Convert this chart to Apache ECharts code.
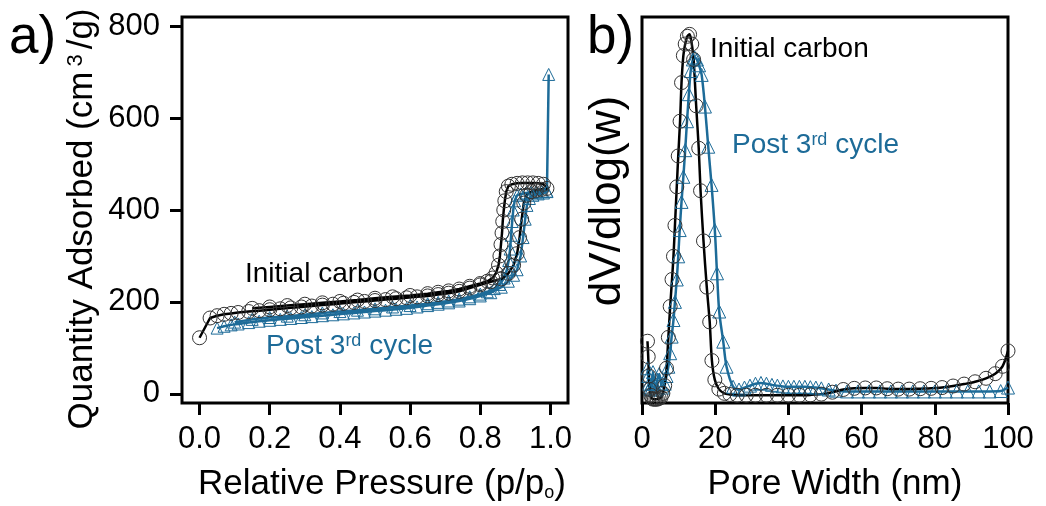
<!DOCTYPE html>
<html><head><meta charset="utf-8">
<script src="https://cdn.jsdelivr.net/npm/echarts@6/dist/echarts.min.js"></script>
<style>html,body{margin:0;padding:0;background:#fff}#c{width:1046px;height:506px}</style>
</head><body><div id="c"></div>
<script>
// ---- tick labels ----
const isoXTicks = [0, 0.2, 0.4, 0.6, 0.8, 1.0];
const isoYTicks = [0, 200, 400, 600, 800];
const psdXTicks = [0, 20, 40, 60, 80, 100];

// ---- (a) isotherms: Initial carbon ----
const icAdsP = [0.0, 0.03, 0.05, 0.07, 0.09, 0.11, 0.14, 0.17, 0.20, 0.23, 0.26, 0.29, 0.32, 0.35, 0.38, 0.41, 0.44, 0.47, 0.50, 0.53, 0.56, 0.59, 0.62, 0.65, 0.68, 0.71, 0.74, 0.77, 0.80, 0.83, 0.86, 0.88, 0.895, 0.905, 0.912, 0.918, 0.924, 0.932, 0.945, 0.96, 0.975, 0.99];
const icAdsV = [122, 165, 170, 173, 175, 177, 179, 181, 183, 185, 187, 189, 191, 193, 195, 197, 199, 201, 203, 205, 207, 209, 211, 213, 216, 219, 223, 230, 237, 244, 250, 262, 280, 305, 340, 380, 415, 432, 440, 443, 445, 447];
const icDesP = [0.98, 0.965, 0.95, 0.935, 0.92, 0.905, 0.89, 0.88, 0.874, 0.87, 0.867, 0.864, 0.862, 0.859, 0.856, 0.852, 0.845, 0.835, 0.82, 0.80, 0.77, 0.74, 0.71, 0.68, 0.65, 0.60, 0.55, 0.50, 0.45, 0.40, 0.35, 0.30, 0.25, 0.20, 0.15];
const icDesV = [456, 458, 459, 459, 459, 458, 456, 452, 440, 420, 400, 375, 350, 325, 300, 280, 263, 252, 245, 240, 234, 228, 224, 221, 218, 214, 211, 208, 204, 201, 198, 195, 192, 189, 186];

// ---- (a) isotherms: Post 3rd cycle ----
const pcAdsP = [0.05, 0.07, 0.09, 0.11, 0.14, 0.17, 0.20, 0.23, 0.26, 0.29, 0.32, 0.35, 0.38, 0.41, 0.44, 0.47, 0.50, 0.53, 0.56, 0.59, 0.62, 0.65, 0.68, 0.71, 0.74, 0.77, 0.80, 0.83, 0.86, 0.88, 0.895, 0.905, 0.915, 0.922, 0.928, 0.933, 0.94, 0.95, 0.965, 0.98, 0.99, 0.995];
const pcAdsV = [143, 147, 150, 152, 155, 158, 160, 162, 164, 166, 168, 170, 172, 174, 176, 178, 180, 182, 184, 186, 189, 192, 195, 198, 202, 207, 213, 220, 232, 245, 258, 270, 300, 340, 380, 410, 425, 432, 435, 437, 440, 695];
const pcDesP = [0.99, 0.975, 0.96, 0.945, 0.93, 0.915, 0.905, 0.898, 0.894, 0.891, 0.888, 0.885, 0.881, 0.876, 0.868, 0.855, 0.84, 0.82, 0.80, 0.77, 0.74, 0.71, 0.68, 0.65, 0.60, 0.55, 0.50, 0.45, 0.40, 0.35, 0.30, 0.25, 0.20, 0.15, 0.10];
const pcDesV = [441, 440, 439, 438, 437, 435, 432, 420, 400, 375, 345, 315, 290, 270, 252, 238, 229, 222, 217, 211, 206, 202, 199, 196, 192, 189, 185, 182, 179, 176, 172, 169, 166, 162, 156];

// ---- (b) pore size distribution ----
const icPsdW = [1.5, 1.7, 1.9, 2.1, 2.4, 2.7, 3.0, 3.4, 3.8, 4.2, 4.7, 5.2, 5.7, 6.2, 6.7, 7.2, 7.7, 8.2, 8.6, 9.0, 9.5, 9.9, 10.4, 10.8, 11.3, 11.8, 12.4, 13.0, 13.6, 14.1, 14.8, 15.5, 16.0, 16.8, 17.7, 18.5, 19.1, 19.9, 21.0, 22.5, 24, 26, 28.5, 31, 34, 37, 40, 43, 46, 49, 52, 55, 58, 61, 64, 67, 70, 73, 76, 79, 82, 85, 88, 91, 94, 96.5, 98.5, 100];
const icPsdV = [0.16, 0.12, 0.07, 0.035, 0.02, 0.012, 0.01, 0.01, 0.01, 0.01, 0.012, 0.015, 0.025, 0.045, 0.09, 0.17, 0.25, 0.32, 0.38, 0.46, 0.56, 0.64, 0.73, 0.83, 0.90, 0.93, 0.95, 0.955, 0.93, 0.89, 0.77, 0.66, 0.55, 0.42, 0.30, 0.21, 0.11, 0.06, 0.036, 0.025, 0.022, 0.02, 0.02, 0.02, 0.02, 0.02, 0.02, 0.02, 0.021, 0.023, 0.028, 0.035, 0.038, 0.039, 0.039, 0.037, 0.036, 0.036, 0.037, 0.038, 0.04, 0.044, 0.049, 0.055, 0.064, 0.076, 0.095, 0.135];
const pcPsdW = [1.5, 1.7, 1.9, 2.1, 2.4, 2.7, 3.0, 3.4, 3.8, 4.2, 4.7, 5.2, 5.7, 6.2, 6.7, 7.2, 7.7, 8.1, 8.6, 9.0, 9.5, 9.9, 10.3, 10.8, 11.3, 11.8, 12.3, 12.8, 13.3, 13.9, 14.4, 15.0, 15.6, 16.3, 17.2, 18.1, 19.0, 19.9, 20.5, 21.1, 22.2, 23.1, 24.9, 26.5, 28, 29.5, 31, 32.5, 34, 35.5, 37, 38.5, 40, 41.5, 43, 44.5, 46, 47.5, 49, 51, 53, 56, 59, 62, 65, 68, 71, 74, 77, 80, 83, 86, 89, 92, 95, 98, 100];
const pcPsdV = [0.09, 0.07, 0.05, 0.04, 0.035, 0.05, 0.08, 0.05, 0.035, 0.06, 0.075, 0.05, 0.04, 0.05, 0.07, 0.094, 0.129, 0.172, 0.215, 0.262, 0.32, 0.38, 0.448, 0.521, 0.586, 0.655, 0.73, 0.80, 0.86, 0.89, 0.895, 0.89, 0.875, 0.85, 0.768, 0.664, 0.565, 0.448, 0.336, 0.237, 0.159, 0.094, 0.042, 0.035, 0.04, 0.045, 0.05, 0.052, 0.05, 0.047, 0.045, 0.043, 0.042, 0.042, 0.042, 0.042, 0.041, 0.04, 0.038, 0.035, 0.032, 0.03, 0.03, 0.03, 0.03, 0.03, 0.03, 0.03, 0.03, 0.03, 0.03, 0.03, 0.03, 0.03, 0.03, 0.031, 0.04];

const zip = (a, b) => a.map((v, i) => [v, b[i]]);
const BLUE = '#1d6b98';
const FF = 'Liberation Sans, Arial, sans-serif';

const icIso = zip(icAdsP, icAdsV).concat(zip(icDesP, icDesV));
const pcIso = zip(pcAdsP, pcAdsV).concat(zip(pcDesP, pcDesV));

const circleStyle = {color: 'rgba(0,0,0,0)', borderColor: '#333', borderWidth: 1};
const triStyle = {color: 'rgba(0,0,0,0)', borderColor: BLUE, borderWidth: 1};

const chart = echarts.init(document.getElementById('c'), null, {renderer: 'canvas'});
const tickStyle = {show: true, length: 12, lineStyle: {width: 3, color: '#000'}};
const lbl = {fontSize: 31, color: '#000', fontFamily: FF};
const nameRich = {
  n: {fontSize: 35, fontFamily: FF, color: '#000'},
  o: {fontSize: 18, fontFamily: FF, color: '#000', verticalAlign: 'bottom'}
};
const annRich = {
  m: {fontSize: 28, fontFamily: FF, fill: BLUE},
  s: {fontSize: 18, fontFamily: FF, fill: BLUE, verticalAlign: 'top'}
};

chart.setOption({
  animation: false,
  backgroundColor: '#fff',
  grid: [
    {left: 182, top: 17, width: 386, height: 386, show: true, borderColor: '#000', borderWidth: 3,
     backgroundColor: 'transparent', outerBoundsMode: 'none', containLabel: false},
    {left: 642, top: 17, width: 366, height: 386, show: true, borderColor: '#000', borderWidth: 3,
     backgroundColor: 'transparent', outerBoundsMode: 'none', containLabel: false}
  ],
  xAxis: [
    {gridIndex: 0, type: 'value', min: -0.05, max: 1.05,
     axisLine: {show: false, onZero: false}, splitLine: {show: false},
     axisTick: Object.assign({customValues: isoXTicks}, tickStyle),
     axisLabel: Object.assign({customValues: isoXTicks, margin: 21, formatter: v => v.toFixed(1)}, lbl),
     name: '{n|Relative Pressure (p/p}{o|o}{n|)}', nameLocation: 'middle', nameGap: 64,
     nameTextStyle: {rich: nameRich, padding: [0, 0, 0, 14]}},
    {gridIndex: 1, type: 'value', min: 0, max: 100,
     axisLine: {show: false, onZero: false}, splitLine: {show: false},
     axisTick: Object.assign({customValues: psdXTicks}, tickStyle),
     axisLabel: Object.assign({customValues: psdXTicks, margin: 21}, lbl),
     name: 'Pore Width (nm)', nameLocation: 'middle', nameGap: 64,
     nameTextStyle: {fontSize: 35, fontFamily: FF, color: '#000', padding: [0, 0, 0, 20]}}
  ],
  yAxis: [
    {gridIndex: 0, type: 'value', min: -20, max: 820,
     axisLine: {show: false, onZero: false}, splitLine: {show: false},
     axisTick: Object.assign({customValues: isoYTicks}, tickStyle),
     axisLabel: Object.assign({customValues: isoYTicks, margin: 22}, lbl),
     name: '{n|Quantity Adsorbed (cm}{s|3}{n|/g)}', nameLocation: 'middle', nameGap: 82,
     nameTextStyle: {padding: [0, 18, 0, 0], rich: {
       n: {fontSize: 35, fontFamily: FF, color: '#000'},
       s: {fontSize: 22, fontFamily: FF, color: '#000', verticalAlign: 'top', padding: [0, 5, 0, 5]}
     }}},
    {gridIndex: 1, type: 'value', min: 0, max: 1,
     axisLine: {show: false, onZero: false}, splitLine: {show: false},
     axisTick: {show: false}, axisLabel: {show: false},
     name: 'dV/dlog(w)', nameLocation: 'middle', nameGap: 12,
     nameTextStyle: {fontSize: 44, fontFamily: FF, color: '#000', padding: [0, 0, 0, 18]}}
  ],
  series: [
    {type: 'line', xAxisIndex: 0, yAxisIndex: 0, data: pcIso, symbol: 'triangle', symbolSize: 12,
     itemStyle: triStyle, lineStyle: {color: BLUE, width: 2.5}},
    {type: 'line', xAxisIndex: 0, yAxisIndex: 0, data: icIso, symbol: 'circle', symbolSize: 14,
     itemStyle: circleStyle, lineStyle: {color: '#000', width: 2.5}},
    {type: 'line', xAxisIndex: 1, yAxisIndex: 1, data: zip(pcPsdW, pcPsdV), symbol: 'triangle', symbolSize: 13,
     smooth: 0.3, itemStyle: triStyle, lineStyle: {color: BLUE, width: 2.5}},
    {type: 'line', xAxisIndex: 1, yAxisIndex: 1, data: zip(icPsdW, icPsdV), symbol: 'circle', symbolSize: 14,
     smooth: 0.3, itemStyle: circleStyle, lineStyle: {color: '#000', width: 2.5}}
  ],
  graphic: [
    {type: 'text', left: 9, top: 12, style: {text: 'a)', font: '53px ' + FF, fill: '#000'}},
    {type: 'text', left: 587, top: 12, style: {text: 'b)', font: '53px ' + FF, fill: '#000'}},
    {type: 'text', left: 245, top: 260, style: {text: 'Initial carbon', font: '28px ' + FF, fill: '#000'}},
    {type: 'text', left: 266, top: 332, style: {text: '{m|Post 3}{s|rd}{m| cycle}', fill: BLUE, rich: annRich}},
    {type: 'text', left: 710, top: 35, style: {text: 'Initial carbon', font: '28px ' + FF, fill: '#000'}},
    {type: 'text', left: 732, top: 131, style: {text: '{m|Post 3}{s|rd}{m| cycle}', fill: BLUE, rich: annRich}}
  ]
});
</script></body></html>
